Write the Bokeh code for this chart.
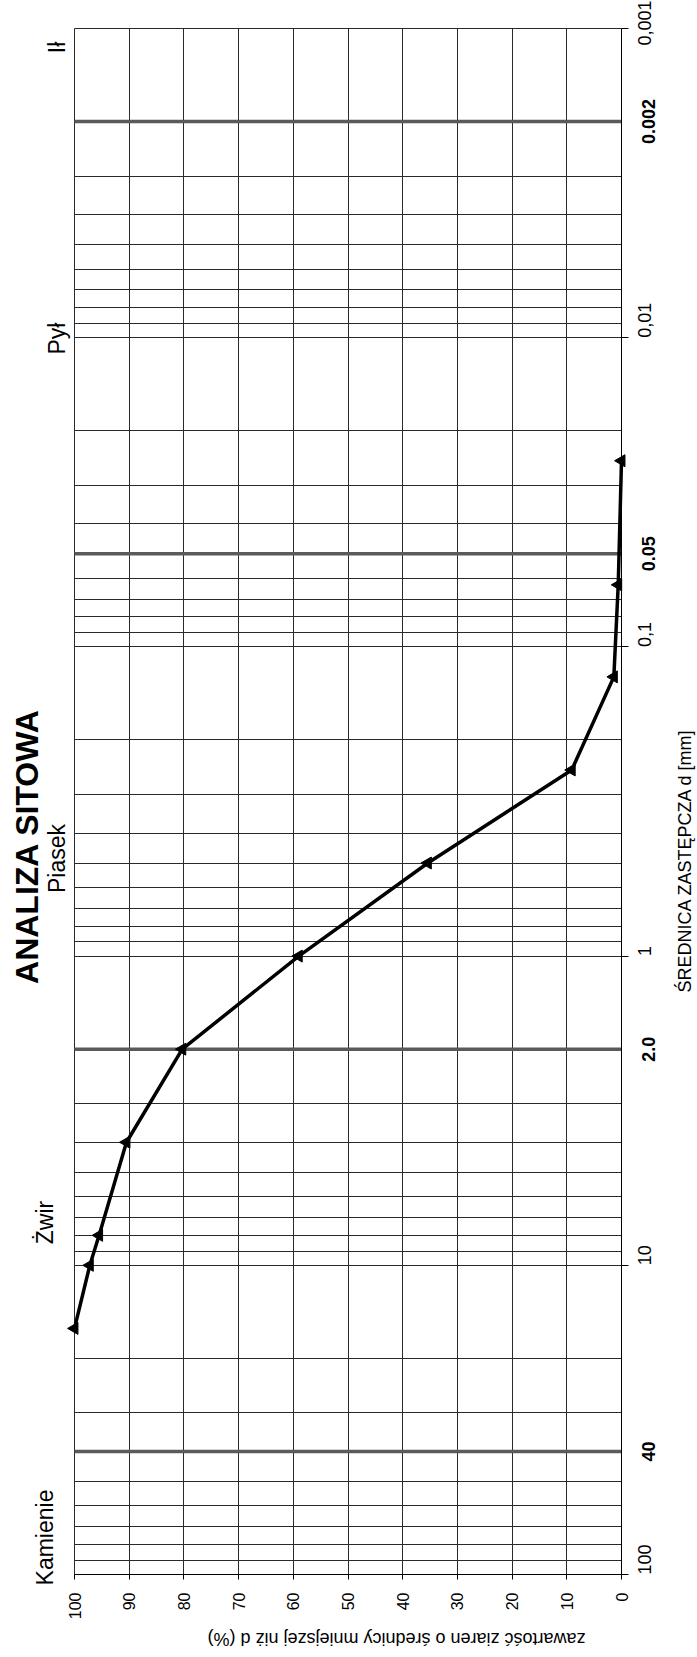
import math
from bokeh.plotting import figure
from bokeh.models import Range1d, FixedTicker, LogAxis, LinearAxis, Label, Grid
from bokeh.embed import file_html
from bokeh.resources import INLINE

# ---- data ----
diameter_mm = [16, 10, 8, 4, 2, 1, 0.5, 0.25, 0.125, 0.063, 0.025]
percent_finer = [100, 97.2, 95.5, 90.5, 80.3, 59.0, 35.4, 9.1, 1.4, 0.6, 0.0]

percent_ticks = [0, 10, 20, 30, 40, 50, 60, 70, 80, 90, 100]
diameter_ticks = [0.001, 0.01, 0.1, 1, 10, 100]
diameter_tick_labels = ["0,001", "0,01", "0,1", "1", "10", "100"]

boundary_diameters = [40, 2, 0.05, 0.002]
boundary_labels = ["40", "2.0", "0.05", "0.002"]

fraction_names = ["Kamienie", "Żwir", "Piasek", "Pył", "Ił"]

title_text = "ANALIZA SITOWA"
x_title = "zawartość ziaren o średnicy mniejszej niż d (%)"
y_title = "ŚREDNICA ZASTĘPCZA d [mm]"

FONT = "Liberation Sans"

# ---- layout: pixel box of the chart inside a 697 x 1657 canvas ----
W, H = 697, 1657
BOX_L, BOX_R, BOX_T, BOX_B = 74, 621, 28, 1574
P_HI, P_LO = 100.0, 0.0          # percent at left / right edge of box
D_HI, D_LO = 100.0, 0.001        # diameter at bottom / top edge of box
px_per_pct = (BOX_R - BOX_L) / (P_HI - P_LO)
px_per_dec = (BOX_B - BOX_T) / (math.log10(D_HI) - math.log10(D_LO))
x_start = P_HI + BOX_L / px_per_pct
x_end = P_LO - (W - BOX_R) / px_per_pct
y_start = 10 ** (math.log10(D_HI) + (H - BOX_B) / px_per_dec)
y_end = 10 ** (math.log10(D_LO) - BOX_T / px_per_dec)


def px_to_pct(xpx):
    return P_HI - (xpx - BOX_L) / px_per_pct


def px_to_d(ypx):
    return 10 ** (math.log10(D_HI) - (BOX_B - ypx) / px_per_dec)


def d_to_px(d):
    return BOX_B - (math.log10(D_HI) - math.log10(d)) * px_per_dec


p = figure(width=W, height=H,
           x_range=Range1d(x_start, x_end), y_range=Range1d(y_start, y_end),
           y_axis_type="log", x_axis_location=None, y_axis_location=None,
           output_backend="svg", toolbar_location=None,
           min_border_left=0, min_border_right=0,
           min_border_top=0, min_border_bottom=0)
p.outline_line_color = None
p.background_fill_color = "white"
p.border_fill_color = "white"
p.grid.visible = False   # hide the default grids, the chart's own grid is added below

GRID_COLOR = "#2a2a2a"
minor_positions = [m * 10.0 ** k for k in range(-3, 2) for m in range(1, 10)] + [100.0]

if "cross_bounds" in Grid.properties():
    vgrid = Grid(dimension=0, ticker=FixedTicker(ticks=percent_ticks),
                 bounds=(P_LO, P_HI), cross_bounds=(D_LO, D_HI),
                 grid_line_color=GRID_COLOR, grid_line_width=1)
    hgrid = Grid(dimension=1, ticker=FixedTicker(ticks=minor_positions),
                 bounds=(D_LO, D_HI), cross_bounds=(P_LO, P_HI),
                 grid_line_color=GRID_COLOR, grid_line_width=1)
    p.add_layout(vgrid)
    p.add_layout(hgrid)
else:
    p.segment(x0=percent_ticks, x1=percent_ticks,
              y0=[D_LO] * len(percent_ticks), y1=[D_HI] * len(percent_ticks),
              line_color=GRID_COLOR, line_width=1)
    p.segment(x0=[P_LO] * len(minor_positions), x1=[P_HI] * len(minor_positions),
              y0=minor_positions, y1=minor_positions,
              line_color=GRID_COLOR, line_width=1)

# bottom axis (percent) at the lower edge of the box
xa = LinearAxis(fixed_location=D_HI, bounds=(P_LO, P_HI),
                ticker=FixedTicker(ticks=percent_ticks))
xa.major_label_orientation = math.pi / 2
xa.major_label_text_font = FONT
xa.major_label_text_font_size = "16px"
xa.major_label_text_color = "black"
xa.major_tick_in = 0
xa.major_tick_out = 5
xa.major_label_standoff = 13
xa.minor_tick_line_color = None
xa.axis_line_color = "black"
xa.major_tick_line_color = "black"
p.add_layout(xa, "below")

# right axis (diameter) at the right edge of the box
ya = LogAxis(fixed_location=P_LO, bounds=(D_LO, D_HI),
             ticker=FixedTicker(ticks=diameter_ticks))
ya.major_label_overrides = {t: s for t, s in zip(diameter_ticks, diameter_tick_labels)}
ya.major_label_orientation = math.pi / 2
ya.major_label_text_font = FONT
ya.major_label_text_font_size = "18px"
ya.major_label_text_color = "black"
ya.major_tick_in = 0
ya.major_tick_out = 7
ya.major_label_standoff = 16
ya.minor_tick_line_color = None
ya.axis_line_color = "black"
ya.major_tick_line_color = "black"
p.add_layout(ya, "right")

# boundary lines between fractions
p.segment(x0=[P_HI] * len(boundary_diameters), x1=[P_LO] * len(boundary_diameters),
          y0=boundary_diameters, y1=boundary_diameters,
          line_color="#5a5a5a", line_width=3.5)

# curve
p.line(percent_finer, diameter_mm, line_color="black", line_width=3.5)
p.scatter(percent_finer, diameter_mm, marker="triangle", size=12,
          angle=math.pi / 2, fill_color="black", line_color="black")


def add_text(text, cx, cy, size, angle, bold=False):
    # cx, cy: centre of the text box in canvas pixels
    p.add_layout(Label(x=px_to_pct(cx), y=px_to_d(cy), text=text, angle=angle,
                       text_align="center", text_baseline="middle",
                       text_font=FONT, text_font_size=size,
                       text_font_style="bold" if bold else "normal",
                       text_color="black"))


# bold boundary labels next to the right axis
for d, s in zip(boundary_diameters, boundary_labels):
    add_text(s, 648, d_to_px(d), "18px", math.pi / 2, bold=True)

# fraction names on the left
name_pos = [(44, 1537), (44, 1222), (56, 858), (56, 338), (56, 47)]
for name, (cx, cy) in zip(fraction_names, name_pos):
    add_text(name, cx, cy, "23px", math.pi / 2)

# chart title
add_text(title_text, 26.5, 846, "32px", math.pi / 2, bold=True)
# axis titles
add_text(y_title, 684, 860, "18px", math.pi / 2)
add_text(x_title, 396, 1638, "18px", math.pi)

open("out.html", "w").write(file_html(p, INLINE))
